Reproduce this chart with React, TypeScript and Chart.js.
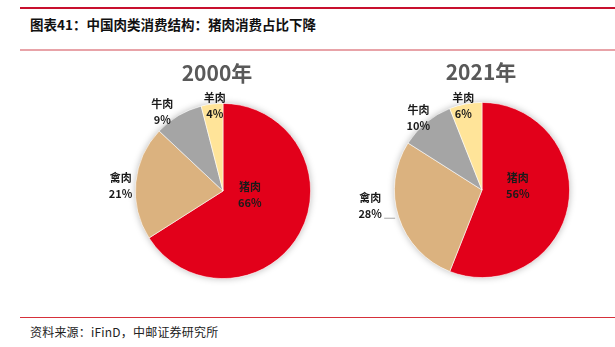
import React, { useEffect, useRef } from "react";
import { Chart, registerables } from "chart.js";

Chart.register(...registerables);

const categories = ["猪肉", "禽肉", "牛肉", "羊肉"];
const values2000 = [66, 21, 9, 4];
const values2021 = [56, 28, 10, 6];
const colors = ["#E2001A", "#DBB27F", "#A5A5A5", "#FFE499"];
const title1 = "2000年";
const title2 = "2021年";

const FONT = '"Noto Sans CJK SC", "Noto Sans", sans-serif';

// label layout: radial factor and angle offset (rad) per slice, [chart][slice]
const labelLayout = [
  [
    { f: 0.31, da: -0.36 },
    { f: 1.17, da: -0.04 },
    { f: 1.14, da: -0.12 },
    { f: 0.98, da: 0.03 },
  ],
  [
    { f: 0.41, da: -0.3 },
    { f: 1.29, da: 0.17 },
    { f: 1.1, da: -0.03 },
    { f: 0.99, da: -0.03 },
  ],
];

function makeLabelPlugin(title: string, idx: number, leader: boolean) {
  return {
    id: "labels" + idx,
    beforeDatasetsDraw(chart: any) {
      const ctx = chart.ctx;
      ctx.save();
      ctx.shadowColor = "rgba(0,0,0,0.28)";
      ctx.shadowBlur = 7;
      const meta = chart.getDatasetMeta(0);
      const a = meta.data[0];
      ctx.beginPath();
      ctx.arc(a.x, a.y, a.outerRadius, 0, Math.PI * 2);
      ctx.fillStyle = "#ffffff";
      ctx.fill();
      ctx.restore();
    },
    afterDatasetsDraw(chart: any) {
      const ctx = chart.ctx;
      const meta = chart.getDatasetMeta(0);
      const data = chart.data.datasets[0].data as number[];
      ctx.save();
      const first = meta.data[0];
      // title
      ctx.fillStyle = "#595959";
      ctx.font = `bold 21px ${FONT}`;
      ctx.textAlign = "center";
      ctx.textBaseline = "middle";
      ctx.fillText(title, first.x - (idx === 0 ? 6 : 1), first.y - first.outerRadius - 30);
      ctx.font = `bold 11px ${FONT}`;
      ctx.fillStyle = "#1a1a1a";
      meta.data.forEach((arc: any, i: number) => {
        const lay = labelLayout[idx][i];
        const mid = (arc.startAngle + arc.endAngle) / 2 + lay.da;
        const r = arc.outerRadius * lay.f;
        const x = arc.x + Math.cos(mid) * r;
        const y = arc.y + Math.sin(mid) * r;
        ctx.fillText(categories[i], x, y - 8);
        ctx.fillText(data[i] + "%", x, y + 8);
        if (leader && i === 1) {
          ctx.strokeStyle = "#a6a6a6";
          ctx.lineWidth = 1;
          ctx.beginPath();
          ctx.moveTo(x + 14, y + 12);
          ctx.lineTo(x + 25, y + 12);
          ctx.stroke();
        }
      });
      ctx.restore();
    },
  };
}

const W = 280;
const H = 250;

function PieChart(props: { values: number[]; title: string; idx: number; left: number; top: number }) {
  const ref = useRef<HTMLCanvasElement>(null);
  useEffect(() => {
    if (!ref.current) return;
    const chart = new Chart(ref.current, {
      type: "pie",
      data: {
        labels: categories,
        datasets: [
          {
            data: props.values,
            backgroundColor: colors,
            borderColor: "rgba(255,255,255,0.7)",
            borderWidth: 0.8,
          },
        ],
      },
      options: {
        animation: false,
        responsive: false,
        maintainAspectRatio: false,
        layout: { padding: { top: 53, bottom: 21, left: 0, right: 0 } },
        plugins: { legend: { display: false }, tooltip: { enabled: false }, title: { display: false } },
      },
      plugins: [makeLabelPlugin(props.title, props.idx, props.idx === 1)],
    });
    return () => chart.destroy();
  }, []);
  return (
    <div style={{ position: "absolute", left: props.left, top: props.top, width: W, height: H }}>
      <canvas ref={ref} width={W} height={H} style={{ width: W, height: H }} />
    </div>
  );
}

export default function App() {
  return (
    <div
      style={{
        position: "absolute",
        left: 0,
        top: 0,
        width: 615,
        height: 347,
        background: "#ffffff",
        overflow: "hidden",
        fontFamily: FONT,
      }}
    >
      <div style={{ position: "absolute", left: 20, top: 7, width: 595, height: 2, background: "#C8102E" }} />
      <div
        style={{
          position: "absolute",
          left: 30,
          top: 14,
          fontSize: 13.5,
          fontWeight: "bold",
          color: "#111",
          whiteSpace: "nowrap",
          lineHeight: "20px",
        }}
      >
        图表41：中国肉类消费结构：猪肉消费占比下降
      </div>
      <div style={{ position: "absolute", left: 20, top: 49, width: 595, height: 2, background: "#E8A3A8" }} />
      <PieChart values={values2000} title={title1} idx={0} left={83} top={50} />
      <PieChart values={values2021} title={title2} idx={1} left={342} top={49} />
      <div style={{ position: "absolute", left: 20, top: 317, width: 595, height: 1, background: "#D6303A" }} />
      <div
        style={{
          position: "absolute",
          left: 30,
          top: 323,
          fontSize: 12,
          color: "#222",
          whiteSpace: "nowrap",
          lineHeight: "18px",
          letterSpacing: 0.2,
        }}
      >
        资料来源：iFinD，中邮证券研究所
      </div>
    </div>
  );
}
